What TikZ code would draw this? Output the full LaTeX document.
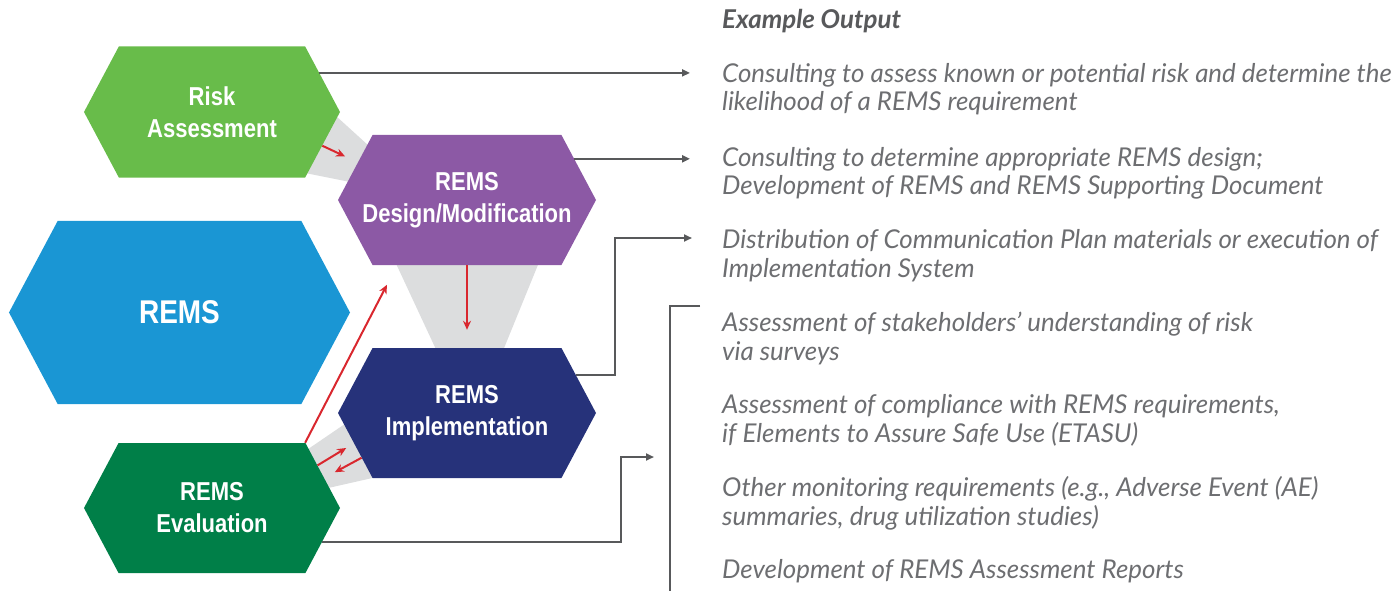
\documentclass[tikz,border=0pt]{standalone}
\usepackage{fontspec}
\usepackage{tikz}
\usetikzlibrary{shapes.symbols,arrows.meta}
\newfontfamily\hexfont[FakeStretch=0.85]{Liberation Sans}
\newfontfamily\outfont{Lato}
\definecolor{riskgreen}{HTML}{68BC4A}
\definecolor{designpurple}{HTML}{8C59A5}
\definecolor{remsblue}{HTML}{1A96D4}
\definecolor{implnavy}{HTML}{26327A}
\definecolor{evalgreen}{HTML}{007F48}
\definecolor{bandgrey}{HTML}{DCDDDE}
\definecolor{linkred}{HTML}{D9272E}
\definecolor{linegrey}{HTML}{58595B}
\definecolor{textgrey}{HTML}{6D6E71}
\tikzset{
  hexa/.style={signal, signal to=east and west, signal pointer angle=124,
    inner sep=0pt, text=white, align=center,
    font=\hexfont\bfseries\fontsize{26}{32}\selectfont},
  redlink/.style={draw=linkred, line width=2bp, -{Stealth[length=9bp,width=8bp]}},
  outlink/.style={draw=linegrey, line width=2.2bp, -{Triangle[length=8bp,width=7bp]}},
  outtext/.style={anchor=base west, inner sep=0pt, align=left, text=textgrey,
    font=\outfont\itshape\fontsize{26}{29}\selectfont}
}
\begin{document}
\begin{tikzpicture}[x=1bp,y=-1bp]
\useasboundingbox (0,0) rectangle (1395,591);
% grey bands
\fill[bandgrey] (325,106) -- (380,156) -- (365,185) -- (290,170) -- cycle;
\fill[bandgrey] (392,255) -- (542,255) -- (500,358) -- (440,358) -- cycle;
\fill[bandgrey] (295,458) -- (358,415) -- (390,474) -- (315,491) -- cycle;
% hexagons
\node[hexa, minimum width=256bp, minimum height=131bp, fill=riskgreen] (risk) at(212,112){Risk\\Assessment};
\node[hexa, minimum width=258bp, minimum height=130bp, inner xsep=-15bp, fill=designpurple] (design) at(467,200){REMS\\Design/Modification};
\node[hexa, minimum width=341bp, minimum height=183bp, fill=remsblue,
  font=\hexfont\bfseries\fontsize{33}{40}\selectfont] (rems) at(179.5,312.5){REMS};
\node[hexa, minimum width=258bp, minimum height=130bp, fill=implnavy] (impl) at(467,413){REMS\\Implementation};
\node[hexa, minimum width=256bp, minimum height=130bp, fill=evalgreen] (eval) at(212,508){REMS\\Evaluation};
% red links
\draw[redlink, shorten >=14bp] (risk.-17.6) -- (design.161.7);
\draw[redlink, shorten >=18bp] (design.south) -- (impl.north);
\draw[redlink, shorten >=22bp] (eval.35) -- (design.223.5);
\draw[redlink, shorten >=9bp] (eval.22.3) -- (impl.195.8);
\draw[redlink, shorten >=12bp] (impl.203.4) -- (eval.15.3);
% output texts
\node[font=\outfont\bfseries\itshape\fontsize{26}{29}\selectfont, text=linegrey,
  anchor=base west, inner sep=0pt] (title) at(722,29){Example Output};
\node[outtext] (out1) at(722,111){Consulting to assess known or potential risk and determine the\\likelihood of a REMS requirement};
\node[outtext] (out2) at(722,195){Consulting to determine appropriate REMS design;\\Development of REMS and REMS Supporting Document};
\node[outtext] (out3) at(722,277){Distribution of Communication Plan materials or execution of\\Implementation System};
\node[outtext] (out4) at(722,360){Assessment of stakeholders’ understanding of risk\\via surveys};
\node[outtext] (out5) at(722,442){Assessment of compliance with REMS requirements,\\if Elements to Assure Safe Use (ETASU)};
\node[outtext] (out6) at(722,525){Other monitoring requirements (e.g., Adverse Event (AE)\\summaries, drug utilization studies)};
\node[outtext] (out7) at(722,578){Development of REMS Assessment Reports};
% output links
\coordinate (tip1) at(690,72);
\coordinate (tip2) at(690,157);
\coordinate (tip3) at(692,238);
\coordinate (tip4) at(654,457);
\draw[outlink] (risk.20.7) -- (tip1 |- risk.20.7);
\draw[outlink] (design.21.1) -- (tip2 |- design.21.1);
\draw[outlink] (impl.19.1) -| (615,238) -- (tip3);
\draw[outlink] (eval.-17.3) -| (621,457) -- (tip4);
\draw[draw=linegrey, line width=2.2bp] (700,306) -| (670,591);
\end{tikzpicture}
\end{document}
